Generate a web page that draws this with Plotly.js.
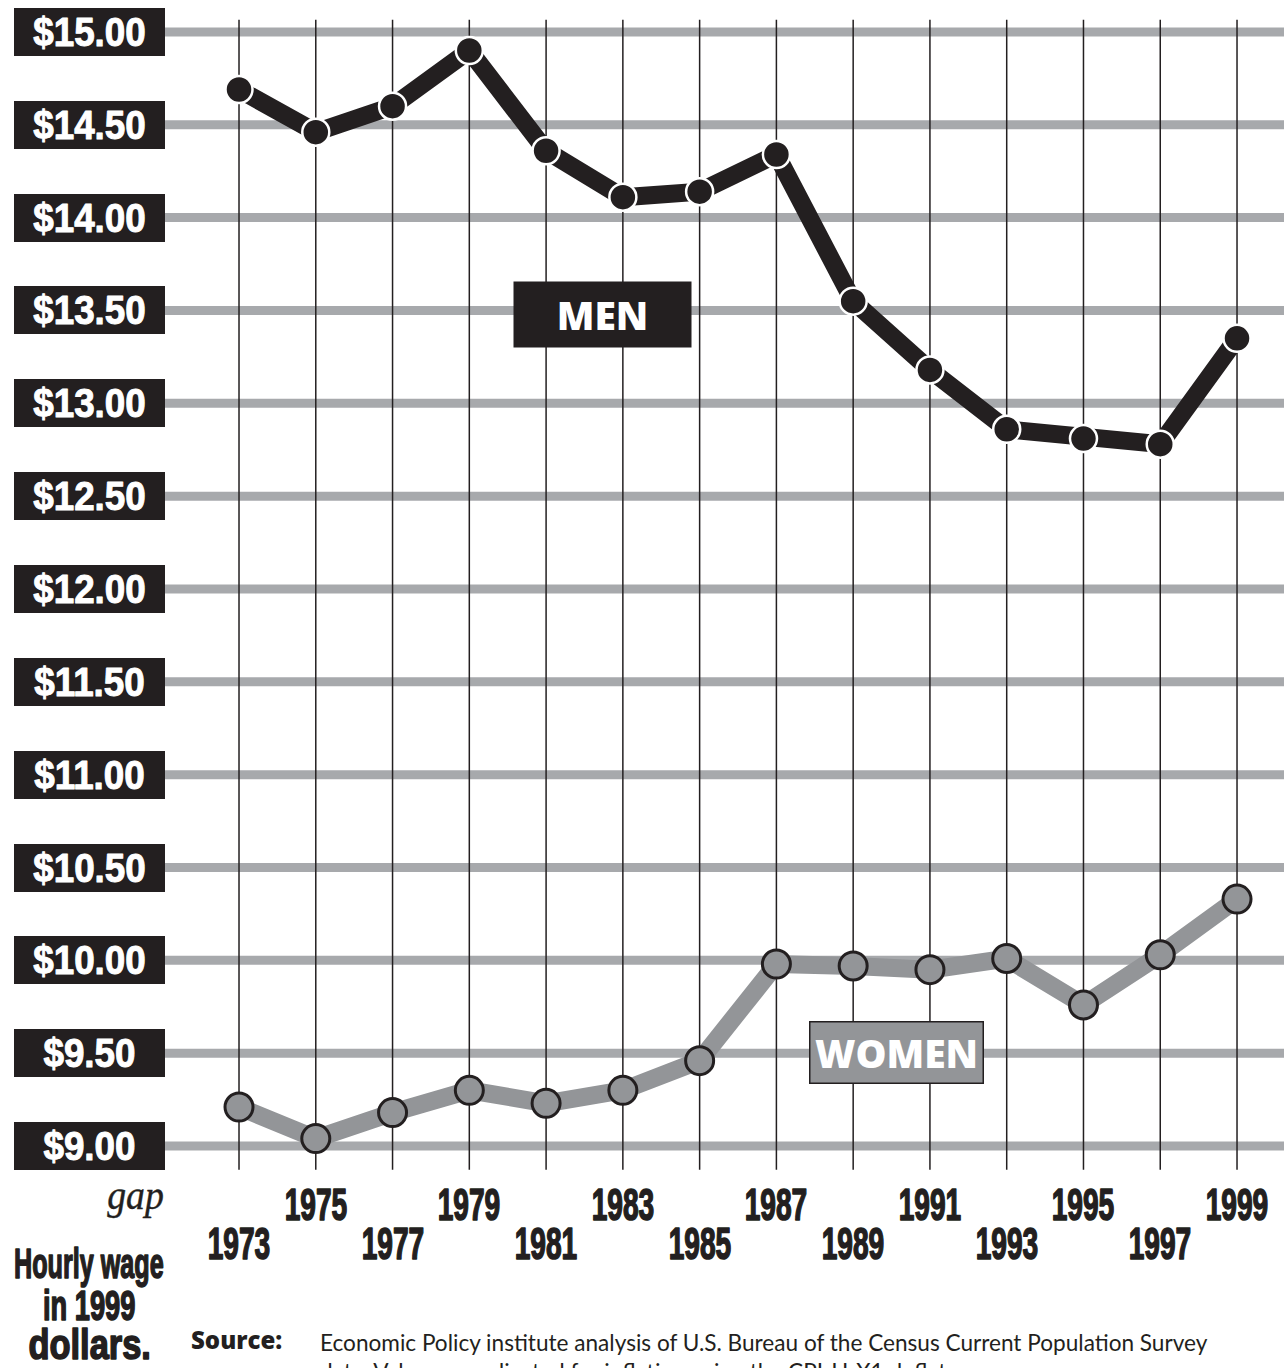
<!DOCTYPE html>
<html>
<head>
<meta charset="utf-8">
<script src="https://cdn.plot.ly/plotly-3.0.1.min.js"></script>
<style>
  body { margin: 0; background: #fff; }
  #myPlot { width: 1284px; height: 1368px; }
</style>
</head>
<body>
<div id="myPlot"></div>
<script>
const years = [1973, 1975, 1977, 1979, 1981, 1983, 1985, 1987, 1989, 1991, 1993, 1995, 1997, 1999];
const menWage = [14.69, 14.46, 14.60, 14.90, 14.36, 14.11, 14.14, 14.34, 13.55, 13.18, 12.86, 12.81, 12.78, 13.35];
const womenWage = [9.21, 9.04, 9.18, 9.30, 9.23, 9.30, 9.46, 9.98, 9.97, 9.95, 10.01, 9.76, 10.03, 10.33];
const wageTicks = [15, 14.5, 14, 13.5, 13, 12.5, 12, 11.5, 11, 10.5, 10, 9.5, 9];
const wageLabels = ["$15.00", "$14.50", "$14.00", "$13.50", "$13.00", "$12.50", "$12.00",
                    "$11.50", "$11.00", "$10.50", "$10.00", "$9.50", "$9.00"];
const captionLines = ["Hourly wage", "in 1999", "dollars."];

const INK = "#231f20";
const GRID = "#a7a9ac";
const GREY = "#939598";
const BOLD = "Liberation Sans, Arial, sans-serif";

// horizontal squeeze + extra stroke per annotation (no condensed heavy font installed)
const squeeze = [];
const thicken = [];

function plot_wages() {
    const data = [
        {
            x: years, y: womenWage, mode: "lines+markers", type: "scatter",
            line: { color: GREY, width: 18 },
            marker: { size: 28, color: GREY, line: { color: INK, width: 3 } }
        },
        {
            x: years, y: menWage, mode: "lines+markers", type: "scatter",
            line: { color: INK, width: 18 },
            marker: { size: 27, color: INK, line: { color: "#ffffff", width: 2.5 } }
        }
    ];

    const shapes = [];
    // thick grey gridlines
    wageTicks.forEach(v => {
        shapes.push({
            type: "line", xref: "paper", x0: 0, x1: 1, yref: "y", y0: v, y1: v,
            line: { color: GRID, width: 9 }, layer: "below"
        });
    });
    // thin vertical year lines
    years.forEach(yr => {
        shapes.push({
            type: "line", xref: "x", x0: yr, x1: yr, yref: "y", y0: 8.872, y1: 15.065,
            line: { color: INK, width: 1.5 }, layer: "below"
        });
    });

    const annotations = [];
    function add(a, s, w) {
        annotations.push(a);
        squeeze.push(s || 0);
        thicken.push(w || 0);
    }

    // y tick labels in black boxes
    wageTicks.forEach((v, i) => {
        add({
            xref: "paper", x: 0, xanchor: "right",
            yref: "y", y: v, yanchor: "middle",
            text: wageLabels[i], showarrow: false,
            bgcolor: INK, borderpad: 4, borderwidth: 0,
            width: 143, height: 40, align: "center",
            font: { family: BOLD, size: 40, color: "#ffffff", weight: 700 }
        }, 0.92, 1);
    });
    // year labels, alternating rows
    years.forEach((yr, i) => {
        add({
            xref: "x", x: yr, xanchor: "center",
            yref: "paper", y: i % 2 === 1 ? -0.0299 : -0.0632, yanchor: "middle",
            text: String(yr), showarrow: false,
            font: { family: BOLD, size: 44, color: INK, weight: 700 }
        }, 0.64, 1.6);
    });

    // series labels
    add({
        xref: "x", x: 1982.48, xanchor: "center", yref: "y", y: 13.48, yanchor: "middle",
        text: "MEN", showarrow: false,
        bgcolor: INK, width: 169, height: 57, borderpad: 4,
        font: { family: "Open Sans, sans-serif", size: 39, color: "#ffffff", weight: 800 }
    });
    add({
        xref: "x", x: 1990.12, xanchor: "center", yref: "y", y: 9.506, yanchor: "middle",
        text: "WOMEN", showarrow: false,
        bgcolor: GREY, bordercolor: INK, borderwidth: 1.5, width: 168, height: 56, borderpad: 2,
        font: { family: "Open Sans, sans-serif", size: 39, color: "#ffffff", weight: 800 }
    });

    // axis caption bottom left
    add({
        xref: "paper", x: (135 - 165) / 1119, xanchor: "center",
        yref: "paper", y: (1170 - 1195) / 1170, yanchor: "middle",
        text: "<i>gap</i>", showarrow: false,
        font: { family: "Liberation Serif, serif", size: 42, color: INK }
    }, 0.9, 0.4);
    const capY = [1263, 1305, 1344];
    const capSq = [0.6, 0.65, 0.82];
    captionLines.forEach((t, i) => {
        add({
            xref: "paper", x: (89 - 165) / 1119, xanchor: "center",
            yref: "paper", y: (1170 - capY[i]) / 1170, yanchor: "middle",
            text: t, showarrow: false,
            font: { family: BOLD, size: 42, color: INK, weight: 700 }
        }, capSq[i], 1.6);
    });

    // source note
    add({
        xref: "paper", x: (236 - 165) / 1119, xanchor: "center",
        yref: "paper", y: (1170 - 1339) / 1170, yanchor: "middle",
        text: "Source:", showarrow: false,
        font: { family: "Open Sans, sans-serif", size: 24, color: INK, weight: 800 }
    });
    add({
        xref: "paper", x: (318 - 165) / 1119, xanchor: "left",
        yref: "paper", y: (1170 - 1327) / 1170, yanchor: "top",
        align: "left", showarrow: false,
        text: "Economic Policy institute analysis of U.S. Bureau of the Census Current Population Survey<br>" +
              "data. Values are adjusted for inflation using the CPI-U-X1 deflator.",
        font: { family: "Lato, sans-serif", size: 22.6, color: INK }
    });

    const layout = {
        width: 1284, height: 1368,
        margin: { l: 165, r: 0, t: 0, b: 198 },
        paper_bgcolor: "#ffffff", plot_bgcolor: "#ffffff",
        showlegend: false,
        xaxis: { range: [1971.072, 2000.224], showgrid: false, zeroline: false, showticklabels: false, ticks: "" },
        yaxis: { range: [8.871, 15.172], showgrid: false, zeroline: false, showticklabels: false, ticks: "" },
        shapes: shapes,
        annotations: annotations
    };

    Plotly.newPlot("myPlot", data, layout, { displayModeBar: false, staticPlot: true }).then(() => {
        document.querySelectorAll("#myPlot g.annotation").forEach(g => {
            const i = +g.getAttribute("data-index");
            const t = g.querySelector("text");
            if (!t) return;
            if (squeeze[i]) {
                t.style.transformBox = "fill-box";
                t.style.transformOrigin = "center";
                t.style.transform = "scaleX(" + squeeze[i] + ")";
            }
            if (thicken[i]) {
                t.style.stroke = annotations[i].font.color;
                t.style.strokeWidth = thicken[i] + "px";
                t.style.strokeLinejoin = "round";
            }
        });
    });
}

plot_wages();
</script>
</body>
</html>
